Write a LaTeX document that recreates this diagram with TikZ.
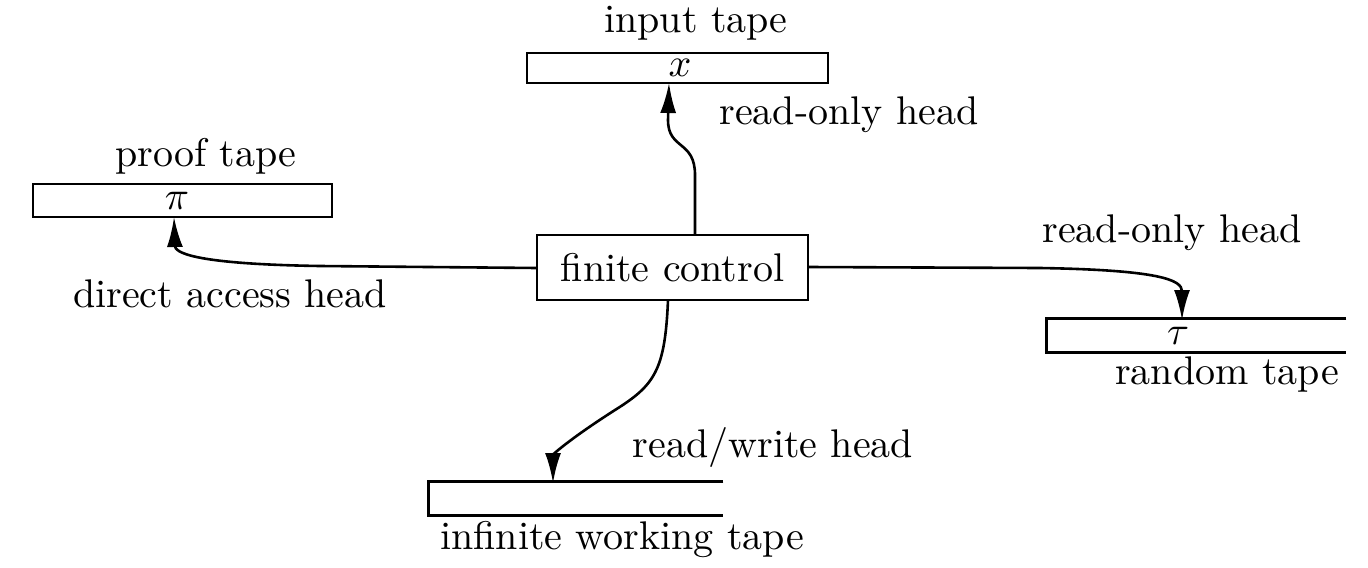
\documentclass[tikz,border=0pt]{standalone}
\usetikzlibrary{arrows.meta}
\begin{document}
\begin{tikzpicture}[x=0.25pt,y=-0.25pt,
  line width=0.65pt,
  tape/.style={draw,inner sep=0pt,minimum height=7.75pt},
  opentape/.style={inner sep=0pt,minimum height=7.75pt},
  ctrl/.style={draw,inner sep=0pt,minimum width=67.75pt,minimum height=16.25pt},
  lbl/.style={inner sep=0pt,anchor=base},
  sym/.style={inner sep=0pt},
  head/.style={-{Latex[length=7.5pt,width=4pt]}}]
\useasboundingbox (0,0) rectangle (1368,567);
% tapes
\node[tape,minimum width=75.25pt,minimum height=7.5pt] (in) at (677.5,68) {};
\node[tape,minimum width=74.75pt,minimum height=8.25pt] (pf) at (182.5,200.5) {};
\node[opentape,minimum width=74.25pt] (rd) at (1196.5,335.5) {};
\node[opentape,minimum width=73pt] (wk) at (576,498.5) {};
\draw (rd.north east) -- (rd.north west) -- (rd.south west) -- (rd.south east);
\draw (wk.north east) -- (wk.north west) -- (wk.south west) -- (wk.south east);
% finite control
\node[ctrl] (fc) at (672.5,267.5) {finite control};
% symbols
\node[sym] (xs) at (680,68) {$x$};
\node[sym] (ps) at (177,201) {$\pi$};
\node[sym] (ts) at (1178,336) {$\tau$};
% labels
\node[lbl] (lin) at (696,33) {input tape};
\node[lbl] (lh1) at (849,124) {read-only head};
\node[lbl] (lpf) at (206,166) {proof tape};
\node[lbl] (lda) at (230,307) {direct access head};
\node[lbl] (lh2) at (1172,242) {read-only head};
\node[lbl] (lrd) at (1227,384) {random tape};
\node[lbl] (lrw) at (773,457) {read/write head};
\node[lbl] (lwk) at (622,549) {infinite working tape};
% connector end points
\coordinate (inS) at (695,235);
\coordinate (inT) at (669,83);
\coordinate (pfS) at (537,268);
\coordinate (pfT) at (174,217);
\coordinate (rdS) at (808,267);
\coordinate (rdT) at (1182,320);
\coordinate (wkS) at (668,300);
\coordinate (wkT) at (553,483);
% heads
\draw[head] (inS) -- (695,175) .. controls (695,140) and (668,150) .. (668,120) -- (inT);
\draw[head] (pfS) -- (320,266) .. controls (190,264) and (175,252) .. (pfT);
\draw[head] (rdS) -- (1040,268) .. controls (1160,270) and (1182,280) .. (rdT);
\draw[head] (wkS) .. controls (665,370) and (655,385) .. (615,410) .. controls (565,442) and (553,455) .. (wkT);
\end{tikzpicture}
\end{document}
